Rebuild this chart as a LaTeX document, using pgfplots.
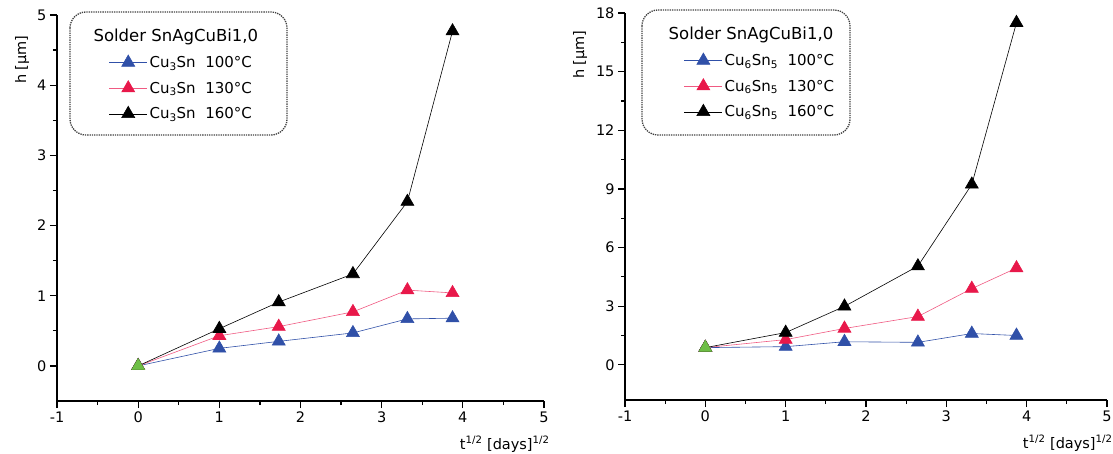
\documentclass[border=0pt]{standalone}
\usepackage{fontspec}
\setmainfont{DejaVu Sans}
\usepackage{pgfplots}
\pgfplotsset{compat=1.18}

\definecolor{cblue}{RGB}{48,80,168}
\definecolor{cred}{RGB}{232,24,74}
\definecolor{cpink}{RGB}{240,90,130}
\definecolor{cgreen}{RGB}{110,190,70}

\pgfplotsset{
  chart/.style={
    scale only axis,
    axis x line*=bottom, axis y line*=left,
    axis line style={line width=1.3pt},
    tick align=outside,
    major tick length=7pt, minor tick length=4pt,
    every tick/.style={line width=1.2pt, black},
    xmin=-1, xmax=5, xtick={-1,0,...,5}, minor x tick num=1,
    tick label style={font=\fontsize{14.5}{16}\selectfont},
    /pgf/number format/assume math mode=true,
    label style={font=\fontsize{14.5}{16}\selectfont},
    xlabel={t\textsuperscript{1/2} [days]\textsuperscript{1/2}},
    ylabel={h [µm]},
    xlabel style={at={(rel axis cs:1,0)}, anchor=base east, xshift=9pt, yshift=-48pt},
    ylabel style={at={(rel axis cs:0,1)}, anchor=east, xshift=-17pt, yshift=35pt},
    legend style={draw=none, fill=none, anchor=north west,
      font=\fontsize{15}{17}\selectfont, row sep=9pt, xshift=39pt, yshift=-10pt},
    legend cell align=left,
    legend image code/.code={\draw[mark repeat=2,mark phase=2]
      plot coordinates {(0pt,0pt) (19pt,0pt) (38pt,0pt)};},
  },
  s1/.style={solid, color=cblue, line width=0.6pt, mark=triangle*, mark size=7.5pt, mark options={fill=cblue}},
  s2/.style={solid, color=cpink, line width=0.6pt, mark=triangle*, mark size=7.5pt, mark options={draw=cred, fill=cred}},
  s3/.style={solid, color=black, line width=0.6pt, mark=triangle*, mark size=7.5pt, mark options={fill=black}},
  s0/.style={only marks, mark=triangle*, mark size=7.5pt, color=cgreen, mark options={fill=cgreen}},
}
\newcommand{\legtitle}{\hspace{-56pt}{\fontsize{16.5}{17}\selectfont Solder SnAgCuBi1,0}}

\begin{document}
\begin{tikzpicture}[x=1pt,y=1pt]
\path[use as bounding box] (0,0) rectangle (1113,453);

% left: Cu3Sn
\begin{axis}[chart, at={(57pt,52pt)}, anchor=south west,
  width=487pt, height=386pt,
  ymin=-0.5, ymax=5, ytick={0,1,...,5}, minor y tick num=1,
  legend style={at={(rel axis cs:0.02,1.0)}}]
\addlegendimage{empty legend}
\addlegendentry{\legtitle}
\addplot[s1] coordinates {(0,0) (1,0.25) (1.732,0.35) (2.646,0.47) (3.317,0.67) (3.873,0.68)};
\addlegendentry{Cu\textsubscript{3}Sn\ \ 100°C}
\addplot[s2] coordinates {(0,0) (1,0.43) (1.732,0.56) (2.646,0.77) (3.317,1.08) (3.873,1.04)};
\addlegendentry{Cu\textsubscript{3}Sn\ \ 130°C}
\addplot[s3] coordinates {(0,0) (1,0.53) (1.732,0.91) (2.646,1.31) (3.317,2.34) (3.873,4.77)};
\addlegendentry{Cu\textsubscript{3}Sn\ \ 160°C}
\addplot[s0, forget plot] coordinates {(0,0)};
\end{axis}
\draw[black!75, line width=1.3pt, densely dotted, rounded corners=16pt] (70,441) rectangle (287,318);

% right: Cu6Sn5
\begin{axis}[chart, at={(625pt,53pt)}, anchor=south west,
  width=482pt, height=387pt,
  ymin=-1.8, ymax=18, ytick={0,3,...,18}, minor y tick num=1,
  xlabel style={xshift=0pt},
  ylabel style={xshift=3pt, yshift=10pt},
  legend style={at={(rel axis cs:0.035,1.0)}}]
\addlegendimage{empty legend}
\addlegendentry{\legtitle}
\addplot[s1] coordinates {(0,0.88) (1,0.93) (1.732,1.18) (2.646,1.15) (3.317,1.6) (3.873,1.5)};
\addlegendentry{Cu\textsubscript{6}Sn\textsubscript{5}\ \ 100°C}
\addplot[s2] coordinates {(0,0.88) (1,1.29) (1.732,1.86) (2.646,2.47) (3.317,3.9) (3.873,4.95)};
\addlegendentry{Cu\textsubscript{6}Sn\textsubscript{5}\ \ 130°C}
\addplot[s3] coordinates {(0,0.88) (1,1.65) (1.732,2.99) (2.646,5.05) (3.317,9.23) (3.873,17.5)};
\addlegendentry{Cu\textsubscript{6}Sn\textsubscript{5}\ \ 160°C}
\addplot[s0, forget plot] coordinates {(0,0.88)};
\end{axis}
\draw[black!75, line width=1.3pt, densely dotted, rounded corners=16pt] (642,443) rectangle (850,318);
\end{tikzpicture}
\end{document}
